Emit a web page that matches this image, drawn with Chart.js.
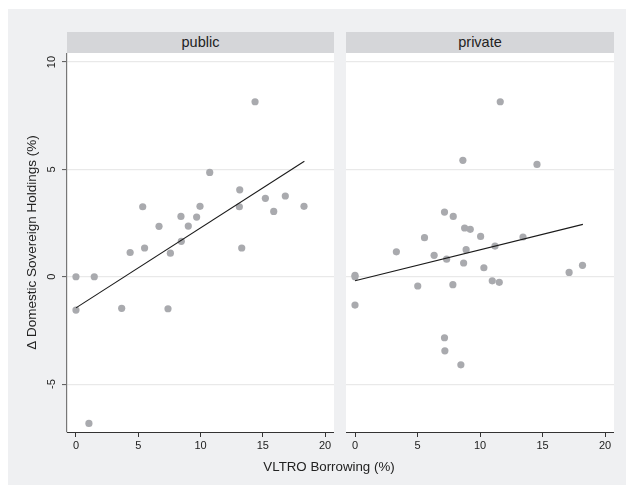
<!DOCTYPE html>
<html><head><meta charset="utf-8">
<script src="https://cdn.jsdelivr.net/npm/chart.js@4.4.0/dist/chart.umd.min.js"></script>
<style>
html,body{margin:0;padding:0;background:#fff;}
body{width:629px;height:485px;position:relative;overflow:hidden;font-family:'Liberation Sans',Arial,sans-serif;}
#bg{position:absolute;left:8px;top:9px;width:618px;height:476px;background:#eff0f2;}
.strip{position:absolute;top:32px;height:21px;background:#d5d6d9;color:#222;font-size:14.5px;line-height:21px;text-align:center;}
canvas{position:absolute;}
#xt{position:absolute;top:459px;left:200px;width:258px;text-align:center;font-size:13.3px;color:#222;white-space:nowrap;}
</style></head>
<body>
<div id="bg"></div>
<div class="strip" style="left:67px;width:267px;">public</div>
<div class="strip" style="left:346px;width:268px;">private</div>
<canvas id="c1" width="326" height="407" style="left:8px;top:53px;"></canvas>
<canvas id="c2" width="268" height="407" style="left:346px;top:53px;"></canvas>
<div id="xt">VLTRO Borrowing (%)</div>
<script>
const panels = ['public', 'private'];
const xTicks = [0, 5, 10, 15, 20];
const yTicks = [-5, 0, 5, 10];

const publicX = [0, 1.47, 10.74, 13.15, 5.36, 9.96, 13.12, 15.21, 16.81, 18.31, 15.88, 8.43, 9.69, 6.67, 9.02, 8.46, 5.51, 4.35, 7.58, 13.31, 14.38, 0, 3.67, 7.39, 1.04];
const publicY = [0, 0, 4.86, 4.05, 3.26, 3.28, 3.26, 3.65, 3.76, 3.28, 3.04, 2.81, 2.78, 2.35, 2.36, 1.65, 1.34, 1.13, 1.10, 1.34, 8.15, -1.55, -1.47, -1.49, -6.83];
const publicFitX = [0, 18.34];
const publicFitY = [-1.45, 5.38];

const privateX = [8.63, 14.56, 7.16, 7.86, 8.77, 9.22, 5.56, 10.05, 13.44, 3.31, 6.33, 8.89, 11.2, 7.33, 8.69, 10.31, 17.13, 18.2, 0, 0, 5.02, 7.83, 10.98, 11.54, 11.62, 0, 7.16, 7.19, 8.47];
const privateY = [5.42, 5.23, 3.01, 2.81, 2.27, 2.21, 1.82, 1.88, 1.85, 1.16, 1.0, 1.26, 1.43, 0.82, 0.64, 0.42, 0.20, 0.53, 0.07, 0, -0.43, -0.37, -0.19, -0.26, 8.15, -1.32, -2.84, -3.45, -4.10];
const privateFitX = [0, 18.23];
const privateFitY = [-0.19, 2.44];

Chart.defaults.font.family = "'Liberation Sans', Arial, sans-serif";

function pts(xs, ys) { return xs.map((x, i) => ({x: x, y: ys[i]})); }

const areaBg = {id: 'areaBg', beforeDraw(c) {
  const a = c.chartArea, ctx = c.ctx;
  ctx.save(); ctx.fillStyle = '#ffffff';
  ctx.fillRect(a.left, a.top, a.right - a.left, a.bottom - a.top);
  ctx.restore();
}};

function noPad(s) { s.paddingTop = 0; s.paddingBottom = 0; s.paddingLeft = 0; s.paddingRight = 0; }

function opts(left) {
  return {
    responsive: false, animation: false, devicePixelRatio: 1,
    layout: {padding: 0, autoPadding: false},
    plugins: {legend: {display: false}, tooltip: {enabled: false}, title: {display: false}},
    scales: {
      x: {type: 'linear', min: -0.72, max: 20.72,
        afterBuildTicks: s => { s.ticks = xTicks.map(v => ({value: v})); },
        afterFit: s => { s.height = 28; noPad(s); },
        grid: {drawOnChartArea: false, drawTicks: true, tickLength: 5, tickColor: '#333', tickWidth: 1},
        border: {display: true, color: '#333', width: 1},
        ticks: {padding: 2, color: '#222', font: {size: 11}, maxRotation: 0, autoSkip: false}
      },
      y: {type: 'linear', min: -7.23, max: 10.42,
        afterBuildTicks: s => { s.ticks = yTicks.map(v => ({value: v})); },
        afterFit: s => { s.width = left ? 59 : 0; noPad(s); },
        grid: {color: '#e9e9e9', lineWidth: 1.2, drawTicks: left, tickLength: 5, tickColor: '#555', tickWidth: 1},
        border: {display: left, color: '#777', width: 1.2},
        ticks: {display: left, padding: 4, color: '#222', font: {size: 11}, minRotation: 90, maxRotation: 90, crossAlign: 'center', autoSkip: false},
        title: {display: left, text: 'Δ Domestic Sovereign Holdings (%)', color: '#222', font: {size: 13.5}, padding: {top: 16, bottom: 0}}
      }
    }
  };
}

function make(id, xs, ys, fx, fy, left) {
  new Chart(document.getElementById(id), {
    type: 'scatter',
    data: {datasets: [
      {data: pts(fx, fy), showLine: true, borderColor: '#1a1a1a', borderWidth: 1.1, pointRadius: 0, fill: false},
      {data: pts(xs, ys), showLine: false, pointRadius: 3.6, pointBackgroundColor: '#a9aaae', pointBorderWidth: 0}
    ]},
    options: opts(left),
    plugins: [areaBg]
  });
}

make('c1', publicX, publicY, publicFitX, publicFitY, true);
make('c2', privateX, privateY, privateFitX, privateFitY, false);
</script>
</body></html>
